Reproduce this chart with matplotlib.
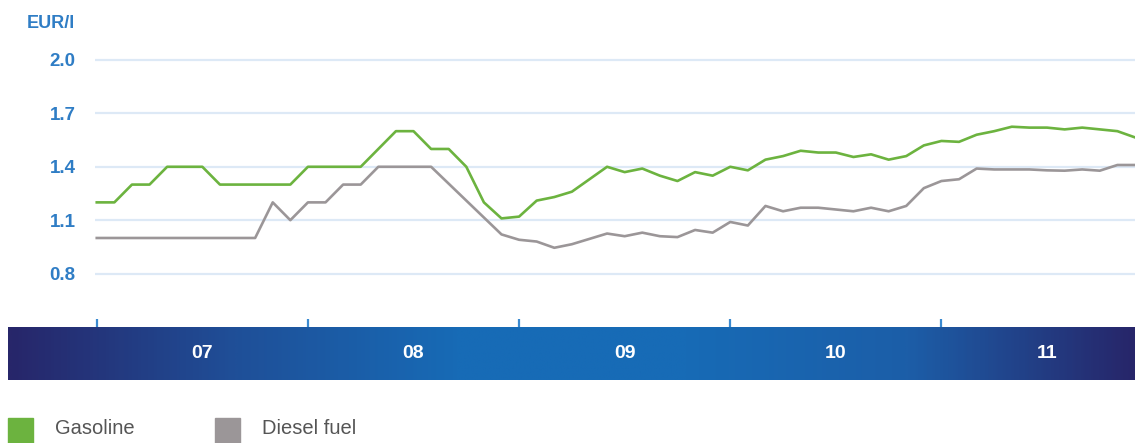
import numpy as np
import matplotlib
matplotlib.use("Agg")
import matplotlib.pyplot as plt
from matplotlib.patches import Rectangle
from matplotlib.colors import LinearSegmentedColormap

plt.rcParams["font.family"] = ["Liberation Sans", "DejaVu Sans"]

# Monthly prices, Jan 2007 - Dec 2011 (EUR/l)
months = np.arange(60)
gasoline = [1.20, 1.20, 1.30, 1.30, 1.40, 1.40, 1.40, 1.30, 1.30, 1.30, 1.30, 1.30,
            1.40, 1.40, 1.40, 1.40, 1.50, 1.60, 1.60, 1.50, 1.50, 1.40, 1.20, 1.11,
            1.12, 1.21, 1.23, 1.26, 1.33, 1.40, 1.37, 1.39, 1.35, 1.32, 1.37, 1.35,
            1.40, 1.38, 1.44, 1.46, 1.49, 1.48, 1.48, 1.455, 1.47, 1.44, 1.46, 1.52,
            1.545, 1.54, 1.58, 1.60, 1.625, 1.62, 1.62, 1.61, 1.62, 1.61, 1.60, 1.565]
diesel = [1.00, 1.00, 1.00, 1.00, 1.00, 1.00, 1.00, 1.00, 1.00, 1.00, 1.20, 1.10,
          1.20, 1.20, 1.30, 1.30, 1.40, 1.40, 1.40, 1.40, 1.305, 1.21, 1.115, 1.02,
          0.99, 0.98, 0.945, 0.965, 0.995, 1.025, 1.01, 1.03, 1.01, 1.005, 1.045, 1.03,
          1.09, 1.07, 1.18, 1.15, 1.17, 1.17, 1.16, 1.15, 1.17, 1.15, 1.18, 1.28,
          1.32, 1.33, 1.39, 1.385, 1.385, 1.385, 1.38, 1.378, 1.385, 1.378, 1.41, 1.41]
year_labels = ["07", "08", "09", "10", "11"]
y_ticks = [0.8, 1.1, 1.4, 1.7, 2.0]

W, H = 1135, 443
fig = plt.figure(figsize=(W / 100, H / 100), dpi=100)

# main plot area (pixel layout converted to figure fractions)
x0, x1 = -0.1, 59.0
ax_left, ax_right, ax_top, ax_bot = 95, 1135, 56.4, 327
ax = fig.add_axes([ax_left / W, 1 - ax_bot / H, (ax_right - ax_left) / W, (ax_bot - ax_top) / H])
ax.set_xlim(x0, x1)
ax.set_ylim(0.5, 2.02)

for v in y_ticks:
    ax.axhline(v, color="#dde9f6", lw=1.6, zorder=0)

ax.plot(months, diesel, color="#9b9698", lw=1.9, zorder=2)
ax.plot(months, gasoline, color="#6cb33f", lw=1.9, zorder=3)

ax.set_yticks(y_ticks)
ax.set_yticklabels([f"{v:.1f}" for v in y_ticks], color="#2f7dc5", fontsize=13.5, fontweight="bold")
ax.tick_params(axis="y", length=0, pad=14)
ax.set_xticks(np.arange(0, 60, 12))
ax.tick_params(axis="x", direction="in", length=6, width=1.6, color="#3b8ad0", labelbottom=False)
for s in ["top", "right", "left", "bottom"]:
    ax.spines[s].set_visible(False)

fig.text(27 / W, 1 - 23 / H, "EUR/l", color="#2f7dc5", fontsize=13, fontweight="bold",
         va="center", ha="left")

# gradient band with years
band_left, band_top, band_bot = 8, 327, 380
px_per_month = (ax_right - ax_left) / (x1 - x0)
bx0 = x0 - (ax_left - band_left) / px_per_month
bax = fig.add_axes([band_left / W, 1 - band_bot / H, (W - band_left) / W, (band_bot - band_top) / H])
bax.set_xlim(bx0, x1)
bax.set_ylim(0, 1)
cmap = LinearSegmentedColormap.from_list("band", ["#27266a", "#1f4f98", "#176bb6", "#176bb6", "#1c5ea8", "#27266a"])
grad = np.linspace(0, 1, 400)[None, :]
bax.imshow(grad, aspect="auto", cmap=cmap, extent=[bx0, x1, 0, 1], zorder=0)
for k, lab in enumerate(year_labels):
    bax.text(12 * k + 6, 0.5, lab, color="white", fontsize=14, fontweight="bold",
             ha="center", va="center")
bax.axis("off")

# legend
fig.patches.append(Rectangle((8 / W, 0), 25 / W, 25 / H, transform=fig.transFigure,
                             color="#6cb33f", figure=fig))
fig.text(55 / W, 1 - 429 / H, "Gasoline", color="#555555", fontsize=14.5, va="center")
fig.patches.append(Rectangle((215 / W, 0), 25 / W, 25 / H, transform=fig.transFigure,
                             color="#9b9698", figure=fig))
fig.text(262 / W, 1 - 429 / H, "Diesel fuel", color="#555555", fontsize=14.5, va="center")

fig.savefig("out.png", dpi=100)
